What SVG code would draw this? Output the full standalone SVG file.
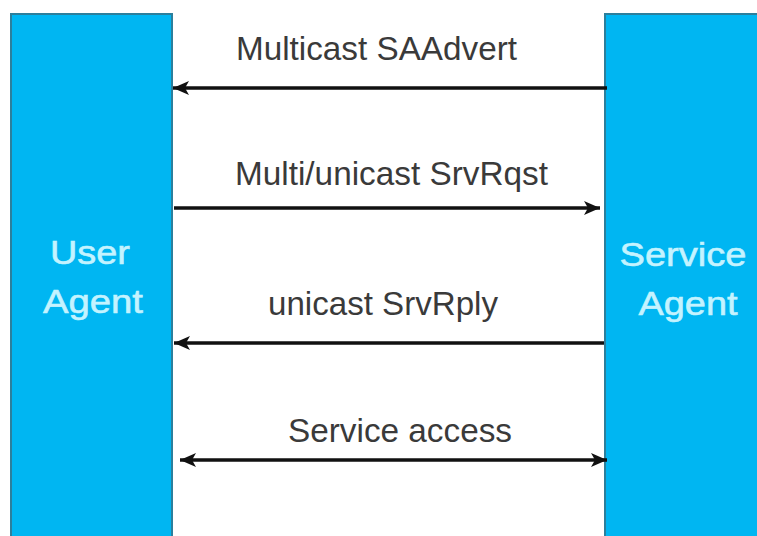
<svg xmlns="http://www.w3.org/2000/svg" width="757" height="536" viewBox="0 0 757 536">
<defs>
<style>
.agent{fill:#00b6f2;stroke:#2c7f9c;stroke-width:2}
.atext{font-family:"Liberation Sans",Arial,sans-serif;font-size:34px;fill:#c4f3ff;stroke:#c4f3ff;stroke-width:0.6;text-anchor:middle}
.lbl{font-family:"Liberation Sans",Arial,sans-serif;font-size:33px;fill:#3a3a3a}
.msg{stroke:#111;stroke-width:3.5;fill:none}
</style>
<marker id="ah" viewBox="0 0 16 14" refX="16" refY="7" markerWidth="16" markerHeight="14" markerUnits="userSpaceOnUse" orient="auto-start-reverse">
<path d="M0,0 L16,7 L0,14 L4,7 Z" fill="#111"/>
</marker>
</defs>
<rect width="757" height="536" fill="#fff"/>
<g id="user-agent">
<rect class="agent" x="11" y="14" width="161" height="524"/>
<text class="atext" x="90" y="264" textLength="80" lengthAdjust="spacingAndGlyphs">User</text>
<text class="atext" x="93" y="313" textLength="100" lengthAdjust="spacingAndGlyphs">Agent</text>
</g>
<g id="service-agent">
<rect class="agent" x="605" y="14" width="154" height="524"/>
<text class="atext" x="683" y="266" textLength="127" lengthAdjust="spacingAndGlyphs">Service</text>
<text class="atext" x="688" y="315" textLength="99" lengthAdjust="spacingAndGlyphs">Agent</text>
</g>
<g id="connectors">
<g id="m1">
<line class="msg" x1="607" y1="88" x2="173" y2="88" marker-end="url(#ah)"/>
<text class="lbl" x="236" y="60" textLength="281" lengthAdjust="spacingAndGlyphs">Multicast SAAdvert</text>
</g>
<g id="m2">
<line class="msg" x1="174" y1="208" x2="600" y2="208" marker-end="url(#ah)"/>
<text class="lbl" x="235" y="185" textLength="313" lengthAdjust="spacingAndGlyphs">Multi/unicast SrvRqst</text>
</g>
<g id="m3">
<line class="msg" x1="604" y1="343" x2="174" y2="343" marker-end="url(#ah)"/>
<text class="lbl" x="268" y="315" textLength="230" lengthAdjust="spacingAndGlyphs">unicast SrvRply</text>
</g>
<g id="m4">
<line class="msg" x1="180" y1="460" x2="607" y2="460" marker-start="url(#ah)" marker-end="url(#ah)"/>
<text class="lbl" x="288" y="442" textLength="224" lengthAdjust="spacingAndGlyphs">Service access</text>
</g>
</g>
</svg>
